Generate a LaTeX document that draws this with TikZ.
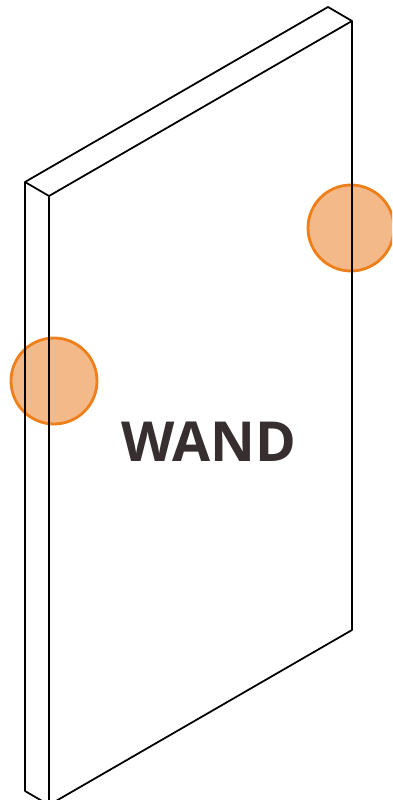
\documentclass[tikz,border=0pt]{standalone}
\usepackage{fontspec}
\setmainfont{Open Sans}
\definecolor{wandorange}{HTML}{EE7F1A}
\definecolor{wandfill}{HTML}{F3B988}
\definecolor{wandtext}{HTML}{362E2F}
\tikzset{
  wandedge/.style={black, line width=1pt, line join=round},
  spot/.style={draw=wandorange, fill=wandfill, line width=1.6pt},
  wandlabel/.style={font=\fontsize{31.4}{32}\selectfont\bfseries, text=wandtext, inner sep=0pt}
}
\begin{document}
\begin{tikzpicture}[x=0.02cm, y=-0.02cm]
  \useasboundingbox (0,0) rectangle (392,800);
  \clip (0,0) rectangle (392,800);

  % Spots
  \draw[spot] (54,381) circle [radius=43];
  \draw[spot] (351,228) circle [radius=43];

  % Wall outline
  \draw[wandedge] (25,182) -- (328,7) -- (352,21) -- (49,196) -- cycle;
  \draw[wandedge] (25,182) -- (25,791) -- (49,805) -- (49,196);
  \draw[wandedge] (352,21) -- (352,630) -- (49,805);

  % Label
  \node[wandlabel] (wand) at (208.5,441.5) {WAND};
\end{tikzpicture}
\end{document}
